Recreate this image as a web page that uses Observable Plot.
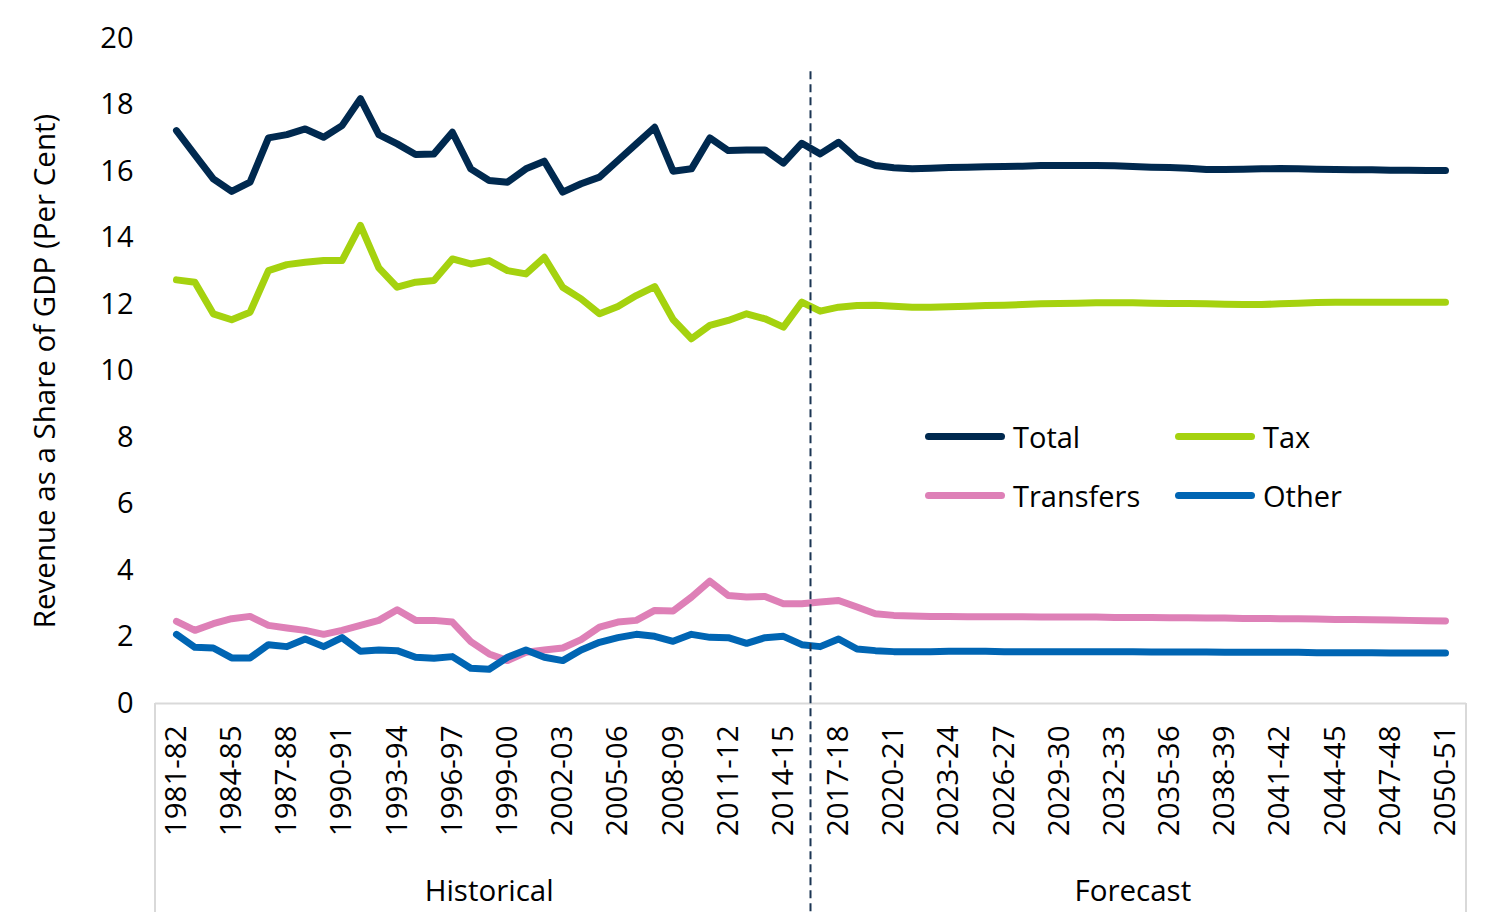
<!DOCTYPE html>
<html><head><meta charset="utf-8">
<script src="https://cdn.jsdelivr.net/npm/d3@7"></script>
<script src="https://cdn.jsdelivr.net/npm/@observablehq/plot@0.6"></script>
<style>
body{margin:0;background:#fff;font-family:"Open Sans",sans-serif;}
#wrap{position:relative;width:1500px;height:921px;overflow:hidden;}
.item{position:absolute;display:flex;align-items:center;height:40px;font-size:29px;color:#000;font-family:"Open Sans",sans-serif;}
.sw{display:inline-block;width:80px;height:7px;border-radius:4px;margin-right:8px;}
</style></head><body><div id="wrap"></div>
<script>
const years = ["1981-82","1982-83","1983-84","1984-85","1985-86","1986-87","1987-88","1988-89","1989-90","1990-91",
"1991-92","1992-93","1993-94","1994-95","1995-96","1996-97","1997-98","1998-99","1999-00","2000-01",
"2001-02","2002-03","2003-04","2004-05","2005-06","2006-07","2007-08","2008-09","2009-10","2010-11",
"2011-12","2012-13","2013-14","2014-15","2015-16","2016-17","2017-18","2018-19","2019-20","2020-21",
"2021-22","2022-23","2023-24","2024-25","2025-26","2026-27","2027-28","2028-29","2029-30","2030-31",
"2031-32","2032-33","2033-34","2034-35","2035-36","2036-37","2037-38","2038-39","2039-40","2040-41",
"2041-42","2042-43","2043-44","2044-45","2045-46","2046-47","2047-48","2048-49","2049-50","2050-51"];

const total = [17.23,16.50,15.78,15.40,15.68,17.01,17.11,17.28,17.03,17.38,
18.19,17.11,16.83,16.51,16.53,17.18,16.08,15.73,15.68,16.08,
16.31,15.38,15.63,15.83,16.33,16.83,17.33,16.01,16.08,17.01,
16.63,16.65,16.65,16.25,16.85,16.53,16.88,16.38,16.18,16.11,
16.08,16.10,16.12,16.13,16.14,16.15,16.16,16.18,16.18,16.18,
16.18,16.17,16.15,16.13,16.12,16.10,16.06,16.06,16.07,16.08,
16.09,16.08,16.07,16.06,16.05,16.05,16.04,16.04,16.03,16.03];

const tax = [12.74,12.67,11.72,11.54,11.77,13.02,13.20,13.27,13.32,13.32,
14.38,13.10,12.52,12.67,12.72,13.37,13.22,13.32,13.02,12.92,
13.42,12.52,12.17,11.72,11.94,12.27,12.54,11.55,10.97,11.37,
11.52,11.72,11.57,11.32,12.07,11.80,11.92,11.97,11.98,11.95,
11.92,11.92,11.93,11.95,11.97,11.98,12.00,12.02,12.03,12.04,
12.05,12.05,12.05,12.04,12.03,12.03,12.02,12.01,12.00,12.00,
12.02,12.04,12.06,12.07,12.07,12.07,12.07,12.07,12.07,12.07];

const transfers = [2.47,2.20,2.40,2.55,2.62,2.35,2.27,2.20,2.08,2.20,
2.35,2.50,2.82,2.50,2.50,2.45,1.86,1.49,1.29,1.54,
1.61,1.67,1.92,2.30,2.45,2.50,2.80,2.78,3.20,3.68,
3.25,3.20,3.22,3.00,3.00,3.05,3.10,2.90,2.70,2.65,
2.63,2.62,2.62,2.61,2.61,2.61,2.61,2.60,2.60,2.60,
2.60,2.59,2.59,2.59,2.58,2.58,2.57,2.57,2.56,2.56,
2.55,2.55,2.54,2.53,2.53,2.52,2.51,2.50,2.49,2.48];

const other = [2.08,1.69,1.67,1.37,1.37,1.77,1.71,1.94,1.71,1.98,
1.57,1.61,1.59,1.39,1.36,1.41,1.06,1.03,1.39,1.61,
1.39,1.29,1.61,1.84,1.98,2.08,2.02,1.87,2.08,1.99,
1.98,1.81,1.98,2.02,1.77,1.71,1.94,1.64,1.59,1.56,
1.56,1.56,1.57,1.57,1.57,1.56,1.56,1.56,1.56,1.56,
1.56,1.56,1.56,1.55,1.55,1.55,1.55,1.54,1.54,1.54,
1.54,1.54,1.53,1.53,1.53,1.53,1.52,1.52,1.52,1.52];

const seriesNames = ["Total","Tax","Transfers","Other"];
const seriesColors = ["#00294f","#a5d20f","#de80b7","#0065b3"];
const groupNames = ["Historical","Forecast"];
const historicalCount = 35;
const yTicks = [0,2,4,6,8,10,12,14,16,18,20];
const yTitle = "Revenue as a Share of GDP (Per Cent)";

const rows = [];
[total, tax, transfers, other].forEach((vals, k) =>
  vals.forEach((v, i) => rows.push({i, year: years[i], series: seriesNames[k], value: v})));

const groupLabels = [
  {name: groupNames[0], mid: (historicalCount - 1) / 2},
  {name: groupNames[1], mid: (historicalCount + years.length - 1) / 2}
];
const boundary = historicalCount - 0.5;
const xTickIdx = years.map((y, i) => i).filter(i => i % 3 === 0);

const W = 1500, H = 921, mL = 155, mR = 34, mT = 38, mB = 218;

const chart = Plot.plot({
  width: W, height: H,
  marginTop: mT, marginBottom: mB, marginLeft: mL, marginRight: mR,
  style: {fontFamily: "Open Sans, sans-serif", fontSize: "28px", color: "#000", background: "#fff", overflow: "visible"},
  x: {type: "linear", domain: [0, years.length - 1], inset: 21, axis: null},
  y: {domain: [0, 20], axis: null},
  color: {domain: seriesNames, range: seriesColors},
  marks: [
    Plot.ruleY([0], {stroke: "#d9d9d9", strokeWidth: 2}),
    Plot.axisY({ticks: yTicks, tickSize: 0, tickPadding: 22, fontSize: 29, label: null}),
    Plot.axisX({ticks: xTickIdx, tickFormat: i => years[i], tickRotate: -90, tickSize: 0, tickPadding: 22, fontSize: 29.5, label: null}),
    Plot.line(rows, {x: "i", y: "value", z: "series", stroke: "series", strokeWidth: 7,
      strokeLinecap: "round", strokeLinejoin: "round"}),
    Plot.text(groupLabels, {x: "mid", text: "name", frameAnchor: "bottom", dy: 188, fontSize: 29.5, lineAnchor: "middle"}),
    Plot.text([yTitle], {frameAnchor: "left", dx: -110, rotate: -90, fontSize: 29.5, textAnchor: "middle"})
  ]
});

// decorative category-box sides and forecast divider
const sx = chart.scale("x"), sy = chart.scale("y");
const svg = d3.select(chart);
const y0 = sy.apply(0), yEnd = H - 9;
svg.append("line").attr("x1", mL).attr("x2", mL).attr("y1", y0).attr("y2", yEnd)
  .attr("stroke", "#d9d9d9").attr("stroke-width", 2);
svg.append("line").attr("x1", W - mR).attr("x2", W - mR).attr("y1", y0).attr("y2", yEnd)
  .attr("stroke", "#d9d9d9").attr("stroke-width", 2);
const xb = sx.apply(boundary);
svg.append("line").attr("x1", xb).attr("x2", xb).attr("y1", sy.apply(19)).attr("y2", yEnd + 2)
  .attr("stroke", "#1b3553").attr("stroke-width", 2).attr("stroke-dasharray", "8,5");

const wrap = document.getElementById("wrap");
wrap.appendChild(chart);

// legend
const legendPos = [[925, 436], [1175, 436], [925, 495], [1175, 495]];
seriesNames.forEach((name, k) => {
  const d = document.createElement("div");
  d.className = "item";
  d.style.left = legendPos[k][0] + "px";
  d.style.top = (legendPos[k][1] - 20) + "px";
  d.innerHTML = `<span class="sw" style="background:${seriesColors[k]}"></span><span>${name}</span>`;
  wrap.appendChild(d);
});
</script></body></html>
